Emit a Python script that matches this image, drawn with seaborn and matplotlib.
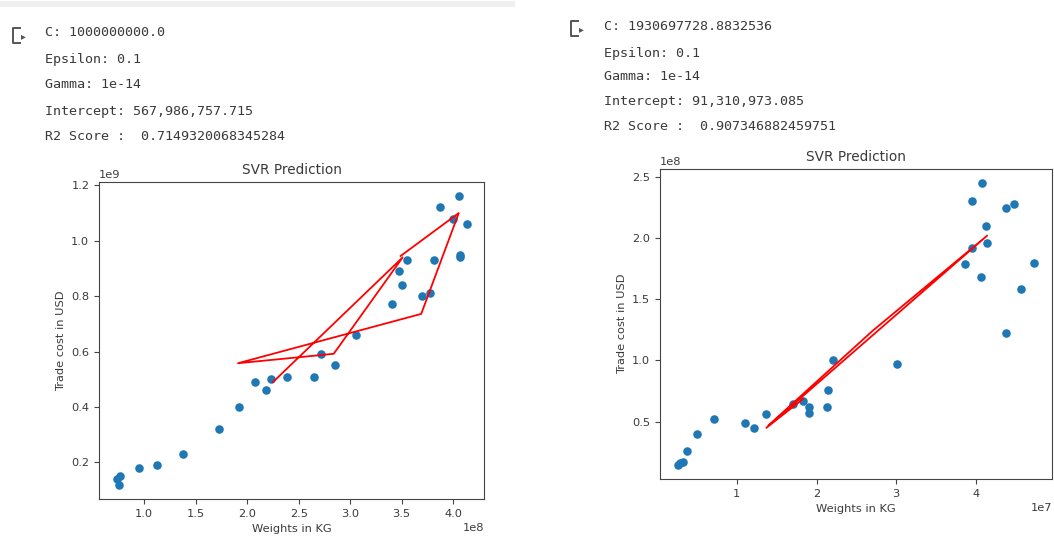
import numpy as np
import pandas as pd
import matplotlib
matplotlib.use("Agg")
import matplotlib.pyplot as plt
import seaborn as sns
from matplotlib.lines import Line2D
from matplotlib.patches import Rectangle


# -----------------------
# Data
# -----------------------

# left run: weights in 1e8 kg, cost in 1e9 usd
weights_a = [0.73, 0.75, 0.76, 0.95, 1.12, 1.38, 1.73, 1.92, 2.08, 2.18,
             2.23, 2.39, 2.65, 2.72, 2.85, 3.06, 3.41, 3.47, 3.50, 3.55,
             3.70, 3.78, 3.81, 3.87, 4.00, 4.06, 4.07, 4.07, 4.13]
cost_a = [0.14, 0.12, 0.15, 0.18, 0.19, 0.23, 0.32, 0.40, 0.49, 0.46,
          0.50, 0.51, 0.51, 0.59, 0.55, 0.66, 0.77, 0.89, 0.84, 0.93,
          0.80, 0.81, 0.93, 1.12, 1.08, 1.16, 0.94, 0.95, 1.06]
pred_x_a = [2.25, 3.51, 2.84, 1.91, 3.69, 4.055, 3.49]
pred_y_a = [0.49, 0.94, 0.592, 0.558, 0.736, 1.10, 0.945]

# right run: weights in 1e7 kg, cost in 1e8 usd
weights_b = [0.26, 0.29, 0.33, 0.38, 0.50, 0.72, 1.10, 1.21, 1.37, 1.70,
             1.83, 1.90, 1.90, 2.13, 2.14, 2.21, 3.01, 3.86, 3.95, 3.95,
             4.06, 4.08, 4.12, 4.14, 4.38, 4.38, 4.48, 4.56, 4.73]
cost_b = [0.145, 0.16, 0.17, 0.26, 0.40, 0.52, 0.49, 0.45, 0.56, 0.64,
          0.67, 0.62, 0.57, 0.62, 0.76, 1.00, 0.97, 1.79, 1.92, 2.30,
          1.68, 2.45, 2.10, 1.96, 2.25, 1.22, 2.28, 1.58, 1.80]
pred_x_b = [1.83, 1.37, 4.14, 2.70, 1.40]
pred_y_b = [0.684, 0.448, 2.02, 1.24, 0.47]

info_a = ["C: 1000000000.0",
          "Epsilon: 0.1",
          "Gamma: 1e-14",
          "Intercept: 567,986,757.715",
          "R2 Score :  0.7149320068345284"]
info_b = ["C: 1930697728.8832536",
          "Epsilon: 0.1",
          "Gamma: 1e-14",
          "Intercept: 91,310,973.085",
          "R2 Score :  0.907346882459751"]


# -----------------------
# Figure
# -----------------------

W, H = 1054, 544
fig = plt.figure(figsize=(W / 100, H / 100), dpi=100)
fig.patch.set_facecolor("white")

TXT = "#3a3a3a"


def px(x, y):
    return x / W, 1 - y / H


# faint notebook bar at the top left
fig.add_artist(Rectangle(px(0, 7), 515 / W, 6 / H, transform=fig.transFigure,
                         color="#f0f0f0", lw=0))


def output_icon(x0, y0):
    xs = [x0 + 7, x0, x0, x0 + 7]
    ys = [y0, y0, y0 + 15, y0 + 15]
    fx, fy = zip(*[px(a, b) for a, b in zip(xs, ys)])
    fig.add_artist(Line2D(fx, fy, transform=fig.transFigure, color="#555555", lw=1.4))
    ax_, ay_ = px(x0 + 8, y0 + 8)
    fig.text(ax_, ay_, "\u25b8", fontsize=7, color="#555555", va="center", ha="left")


def info_block(lines, x0, y_list):
    for line, yy in zip(lines, y_list):
        fx, fy = px(x0, yy)
        fig.text(fx, fy, line, family="DejaVu Sans Mono", fontsize=9.6,
                 color=TXT, va="center", ha="left")


output_icon(13, 28)
info_block(info_a, 45, [33, 59, 85, 111, 137])
output_icon(571, 21)
info_block(info_b, 604, [26, 53, 77, 102, 127])


def draw_panel(rect, wx, cy, px_, py_, xscale, yscale):
    ax = fig.add_axes(rect)

    sns.scatterplot(
        x=np.array(wx) * xscale,
        y=np.array(cy) * yscale,
        color="#1f77b4",
        s=38,
        linewidth=0,
        ax=ax
    )

    sns.lineplot(
        x=np.array(px_) * xscale,
        y=np.array(py_) * yscale,
        sort=False,
        estimator=None,
        color="red",
        linewidth=1.3,
        ax=ax
    )

    ax.set_title("SVR Prediction", fontsize=9.8, color=TXT)
    ax.set_xlabel("Weights in KG", fontsize=8.2, color=TXT)
    ax.set_ylabel("Trade cost in USD", fontsize=8.2, color=TXT)
    ax.tick_params(labelsize=8.2, colors="#444444", labelcolor=TXT)
    ax.xaxis.get_offset_text().set_fontsize(8.2)
    ax.yaxis.get_offset_text().set_fontsize(8.2)
    ax.xaxis.get_offset_text().set_color(TXT)
    ax.yaxis.get_offset_text().set_color(TXT)
    for sp in ax.spines.values():
        sp.set_color("#444444")
    return ax


# left panel: axes box 99..484 x 182..499 px
draw_panel([99 / W, 1 - 499 / H, 385 / W, 317 / H],
           weights_a, cost_a, pred_x_a, pred_y_a, 1e8, 1e9)

# right panel: axes box 660..1052 x 169..479 px
draw_panel([660 / W, 1 - 479 / H, 392 / W, 310 / H],
           weights_b, cost_b, pred_x_b, pred_y_b, 1e7, 1e8)

fig.savefig("out.png", dpi=100)
